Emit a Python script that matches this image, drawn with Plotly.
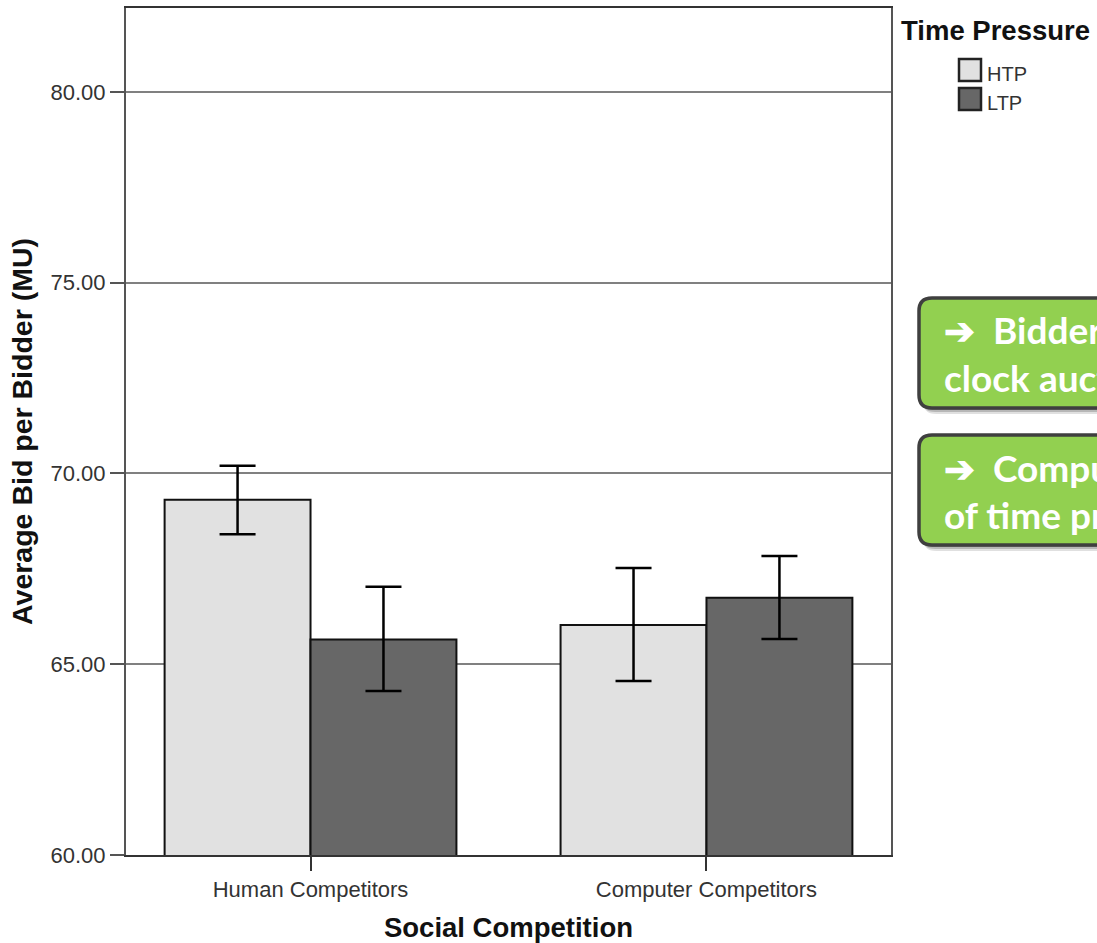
import plotly.graph_objects as go

# ---- data -------------------------------------------------------------
groups = ["Human Competitors", "Computer Competitors"]
series_names = ["HTP", "LTP"]
series_colors = ["#e1e1e1", "#676767"]

htp_mean = [69.31, 66.03]
htp_upper = [70.20, 67.52]
htp_lower = [68.41, 64.56]

ltp_mean = [65.65, 66.74]
ltp_upper = [67.03, 67.84]
ltp_lower = [64.30, 65.66]

y_ticks = [60, 65, 70, 75, 80]

note_lines = [
    ["\u2794  Bidders bid higher in fast Dutch", "clock auctions under time pressure"],
    ["\u2794  Computer competitors reduce the effect", "of time pressure on bids"],
]

# ---- geometry helpers (pixel -> paper) --------------------------------
W, H = 1097, 943
ML, MR, MT, MB = 126, 206, 8, 88
PW, PH = W - ML - MR, H - MT - MB


def px(x):
    return (x - ML) / PW


def py(y):
    return (H - MB - y) / PH


AXIS_FONT = "Liberation Sans, Arial, sans-serif"

fig = go.Figure()

means = [htp_mean, ltp_mean]
uppers = [htp_upper, ltp_upper]
lowers = [htp_lower, ltp_lower]
for name, color, m, up, lo in zip(series_names, series_colors, means, uppers, lowers):
    fig.add_trace(go.Bar(
        x=groups,
        y=m,
        name=name,
        marker=dict(color=color, line=dict(color="#111111", width=2)),
        error_y=dict(
            type="data",
            symmetric=False,
            array=[u - v for u, v in zip(up, m)],
            arrayminus=[v - l for v, l in zip(m, lo)],
            color="#000000",
            thickness=2.5,
            width=18,
        ),
        showlegend=False,
    ))

fig.update_layout(
    width=W,
    height=H,
    margin=dict(l=ML, r=MR, t=MT, b=MB),
    paper_bgcolor="white",
    plot_bgcolor="white",
    barmode="group",
    bargap=0.263,
    bargroupgap=0,
    showlegend=False,
    font=dict(family=AXIS_FONT, color="#333333"),
)

fig.update_xaxes(
    type="category",
    range=[-0.466, 1.466],
    automargin=False,
    showline=True,
    linecolor="#333333",
    linewidth=1.5,
    mirror=True,
    ticks="outside",
    ticklen=14,
    tickwidth=1.5,
    tickcolor="#333333",
    tickfont=dict(size=22, color="#333333", family=AXIS_FONT),
    showgrid=False,
    title=dict(
        text="Social Competition",
        font=dict(size=27.5, color="#111111", family=AXIS_FONT, weight="bold"),
        standoff=18,
    ),
)

fig.update_yaxes(
    range=[60, 82.2],
    automargin=False,
    tickvals=y_ticks,
    tickformat=".2f",
    showline=True,
    linecolor="#555555",
    linewidth=2,
    mirror=True,
    ticks="outside",
    ticklen=14,
    tickwidth=1.5,
    tickcolor="#555555",
    tickfont=dict(size=22, color="#333333", family=AXIS_FONT),
    showgrid=True,
    gridcolor="#808080",
    gridwidth=1.5,
    zeroline=False,
    title=dict(
        text="Average Bid per Bidder (MU)",
        font=dict(size=28.5, color="#111111", family=AXIS_FONT, weight="bold"),
        standoff=10,
    ),
)

shapes = []
annotations = []

# ---- legend ---------------------------------------------------------
annotations.append(dict(
    text="Time Pressure", xref="paper", yref="paper",
    x=px(899), y=py(31), xanchor="left", yanchor="middle", showarrow=False,
    font=dict(size=27.5, color="#111111", family=AXIS_FONT, weight="bold"),
))
for i, (name, color) in enumerate(zip(series_names, series_colors)):
    top = 59 + 29 * i
    shapes.append(dict(
        type="rect", xref="paper", yref="paper",
        x0=px(959), x1=px(981), y0=py(top), y1=py(top + 22),
        fillcolor=color, line=dict(color="#222222", width=2.5),
    ))
    annotations.append(dict(
        text=name, xref="paper", yref="paper",
        x=px(985), y=py(top + 15), xanchor="left", yanchor="middle",
        showarrow=False,
        font=dict(size=20, color="#333333", family=AXIS_FONT),
    ))


# ---- green call-out boxes (running off the right edge) ----------------
def rounded_box(x0, y0, x1, y1, r):
    pts = [
        f"M{px(x0 + r)},{py(y0)}",
        f"L{px(x1)},{py(y0)}",
        f"L{px(x1)},{py(y1)}",
        f"L{px(x0 + r)},{py(y1)}",
        f"Q{px(x0)},{py(y1)} {px(x0)},{py(y1 - r)}",
        f"L{px(x0)},{py(y0 + r)}",
        f"Q{px(x0)},{py(y0)} {px(x0 + r)},{py(y0)}",
        "Z",
    ]
    return " ".join(pts)


boxes = [(298, 408), (435, 545)]
for (top, bottom), lines in zip(boxes, note_lines):
    for dx, dy, a in [(4, 6, 0.12), (3, 4, 0.18), (2, 2, 0.22)]:
        shapes.append(dict(
            type="path", xref="paper", yref="paper",
            path=rounded_box(919 + dx, top + dy, 1300, bottom + dy, 13),
            fillcolor=f"rgba(0,0,0,{a})", line=dict(width=0),
        ))
    shapes.append(dict(
        type="path", xref="paper", yref="paper",
        path=rounded_box(919, top, 1300, bottom, 13),
        fillcolor="#92d050", line=dict(color="#3f3f3f", width=3.5),
    ))
    for j, line in enumerate(lines):
        baseline = top + 45 + 47 * j
        annotations.append(dict(
            text=line, xref="paper", yref="paper",
            x=px(942), y=py(baseline - 13), xanchor="left", yanchor="middle",
            showarrow=False, align="left",
            font=dict(size=37, color="white", family="Lato, Open Sans, sans-serif",
                      weight="bold"),
        ))

fig.update_layout(shapes=shapes, annotations=annotations)

fig.write_html("out.html")
